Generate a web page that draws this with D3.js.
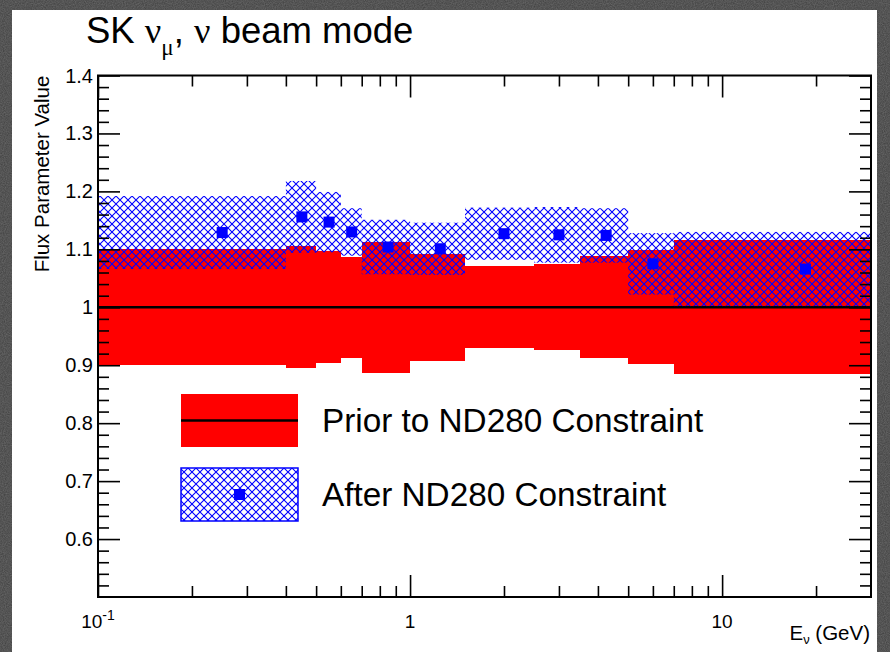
<!DOCTYPE html>
<html>
<head>
<meta charset="utf-8">
<script src="https://cdn.jsdelivr.net/npm/d3@7"></script>
<style>
body { margin: 0; background: #3c3c3c; }
text { font-family: "Liberation Sans", Arial, sans-serif; fill: #000; }
</style>
</head>
<body>
<div id="chart"></div>
<script>
// bins in neutrino energy (GeV)
var binEdges = [0.1, 0.4, 0.5, 0.6, 0.7, 1.0, 1.5, 2.5, 3.5, 5.0, 7.0, 30];
// prior: nominal 1 with +- error
var priorValue = [1, 1, 1, 1, 1, 1, 1, 1, 1, 1, 1];
var priorErr = [0.100, 0.105, 0.097, 0.087, 0.113, 0.092, 0.071, 0.074, 0.088, 0.098, 0.116];
// after ND280 fit
var postValue = [1.129, 1.156, 1.147, 1.130, 1.104, 1.101, 1.127, 1.125, 1.124, 1.075, 1.066];
var postErr = [0.063, 0.062, 0.052, 0.041, 0.047, 0.045, 0.045, 0.048, 0.047, 0.053, 0.064];

var yMajor = [0.6, 0.7, 0.8, 0.9, 1.0, 1.1, 1.2, 1.3, 1.4];
var yLabels = ["0.6", "0.7", "0.8", "0.9", "1", "1.1", "1.2", "1.3", "1.4"];
var xMajor = [0.1, 1, 10];
var xMinor = [0.2, 0.3, 0.4, 0.5, 0.6, 0.7, 0.8, 0.9, 2, 3, 4, 5, 6, 7, 8, 9, 20];

var W = 890, H = 652;
var pL = 98, pR = 871, pT = 75.5, pB = 597;

var svg = d3.select('#chart')
    .append('svg')
    .attr('width', W)
    .attr('height', H);

var defs = svg.append('defs');

// stony background noise
var f = defs.append('filter').attr('id', 'stone');
f.append('feTurbulence').attr('type', 'fractalNoise').attr('baseFrequency', 0.9).attr('numOctaves', 2).attr('result', 'n');
f.append('feColorMatrix').attr('type', 'matrix')
    .attr('values', '0 0 0 0 0.25  0 0 0 0 0.25  0 0 0 0 0.25  0.6 0 0 0 0');

var hatch = defs.append('pattern')
    .attr('id', 'hatch')
    .attr('patternUnits', 'userSpaceOnUse')
    .attr('width', 8).attr('height', 8);
hatch.append('path')
    .attr('d', 'M0,0 L8,8 M0,8 L8,0')
    .attr('stroke', '#0000ff')
    .attr('stroke-width', 1.1)
    .attr('fill', 'none');

defs.append('clipPath').attr('id', 'plotclip')
    .append('rect').attr('x', pL).attr('y', pT)
    .attr('width', pR - pL).attr('height', pB - pT);

svg.append('rect').attr('width', W).attr('height', H).attr('fill', '#3e3e3e');
svg.append('rect').attr('width', W).attr('height', H).attr('filter', 'url(#stone)');
svg.append('rect').attr('x', 12).attr('y', 10).attr('width', 865).attr('height', 642).attr('fill', '#fff');

var x = d3.scaleLog().domain([0.1, 30]).range([pL, pR]);
var y = d3.scaleLinear().domain([0.5, 1.4]).range([pB, pT]);

var bins = d3.range(priorErr.length).map(function(i) {
    return {
        lo: binEdges[i], hi: binEdges[i + 1],
        pv: priorValue[i], pe: priorErr[i],
        v: postValue[i], e: postErr[i]
    };
});

var plot = svg.append('g').attr('clip-path', 'url(#plotclip)');

// prior band
plot.selectAll('rect.prior')
    .data(bins)
    .enter()
    .append('rect')
    .attr('class', 'prior')
    .attr('x', function(d) { return x(d.lo); })
    .attr('width', function(d) { return x(d.hi) - x(d.lo); })
    .attr('y', function(d) { return y(d.pv + d.pe); })
    .attr('height', function(d) { return y(d.pv - d.pe) - y(d.pv + d.pe); })
    .attr('fill', '#ff0000')
    .attr('shape-rendering', 'crispEdges');

// prior central line
plot.append('path')
    .attr('d', d3.line()
        .curve(d3.curveStepAfter)
        .x(function(d) { return x(d.lo); })
        .y(function(d) { return y(d.pv); })(bins.concat([{lo: 30, pv: 1}])))
    .attr('stroke', '#000')
    .attr('stroke-width', 2.5)
    .attr('fill', 'none');

// post-fit hatched band
plot.selectAll('rect.post')
    .data(bins)
    .enter()
    .append('rect')
    .attr('class', 'post')
    .attr('x', function(d) { return x(d.lo); })
    .attr('width', function(d) { return x(d.hi) - x(d.lo); })
    .attr('y', function(d) { return y(d.v + d.e); })
    .attr('height', function(d) { return y(d.v - d.e) - y(d.v + d.e); })
    .attr('fill', 'url(#hatch)');

// post-fit points
var ms = 11;
plot.selectAll('rect.pt')
    .data(bins)
    .enter()
    .append('rect')
    .attr('class', 'pt')
    .attr('x', function(d) { return x((d.lo + d.hi) / 2) - ms / 2; })
    .attr('y', function(d) { return y(d.v) - ms / 2; })
    .attr('width', ms).attr('height', ms)
    .attr('fill', '#0000ff');

// axes, ticks pointing inward on all four sides
function styleAxis(g) {
    g.select('.domain').remove();
    g.selectAll('.tick line').attr('stroke', '#000').attr('stroke-width', 1.6);
    g.selectAll('.tick text').remove();
}
var yMinor = d3.range(0.52, 1.4, 0.02).filter(function(v) {
    return Math.abs(v * 10 - Math.round(v * 10)) > 0.01;
});

svg.append('g').attr('transform', 'translate(' + pL + ',0)')
    .call(d3.axisLeft(y).tickValues(yMajor).tickSize(-22)).call(styleAxis);
svg.append('g').attr('transform', 'translate(' + pL + ',0)')
    .call(d3.axisLeft(y).tickValues(yMinor).tickSize(-11)).call(styleAxis);
svg.append('g').attr('transform', 'translate(' + pR + ',0)')
    .call(d3.axisRight(y).tickValues(yMajor).tickSize(-22)).call(styleAxis);
svg.append('g').attr('transform', 'translate(' + pR + ',0)')
    .call(d3.axisRight(y).tickValues(yMinor).tickSize(-11)).call(styleAxis);

svg.append('g').attr('transform', 'translate(0,' + pB + ')')
    .call(d3.axisBottom(x).tickValues(xMajor).tickSize(-22)).call(styleAxis);
svg.append('g').attr('transform', 'translate(0,' + pB + ')')
    .call(d3.axisBottom(x).tickValues(xMinor).tickSize(-11)).call(styleAxis);
svg.append('g').attr('transform', 'translate(0,' + pT + ')')
    .call(d3.axisTop(x).tickValues(xMajor).tickSize(-22)).call(styleAxis);
svg.append('g').attr('transform', 'translate(0,' + pT + ')')
    .call(d3.axisTop(x).tickValues(xMinor).tickSize(-11)).call(styleAxis);

svg.append('rect')
    .attr('x', pL).attr('y', pT)
    .attr('width', pR - pL).attr('height', pB - pT)
    .attr('fill', 'none')
    .attr('stroke', '#000')
    .attr('stroke-width', 2);

// y tick labels
svg.selectAll('text.ylab')
    .data(yMajor)
    .enter()
    .append('text')
    .attr('class', 'ylab')
    .attr('x', pL - 5)
    .attr('y', function(d) { return y(d) + 7; })
    .attr('text-anchor', 'end')
    .attr('font-size', 20)
    .text(function(d, i) { return yLabels[i]; });

// x tick labels
var xl = svg.selectAll('text.xlab')
    .data(xMajor)
    .enter()
    .append('text')
    .attr('class', 'xlab')
    .attr('x', function(d) { return x(d); })
    .attr('y', 628)
    .attr('text-anchor', 'middle')
    .attr('font-size', 19);
xl.each(function(d) {
    var t = d3.select(this);
    if (d === 0.1) {
        t.append('tspan').text('10');
        t.append('tspan').attr('dy', -8).attr('font-size', 14).text('-1');
    } else {
        t.text(d);
    }
});

// axis titles
var xt = svg.append('text')
    .attr('x', 870).attr('y', 640)
    .attr('text-anchor', 'end')
    .attr('font-size', 20.5);
xt.append('tspan').text('E');
xt.append('tspan').attr('dy', 4).attr('font-size', 13).text('ν');
xt.append('tspan').attr('dy', -4).text(' (GeV)');

svg.append('text')
    .attr('transform', 'translate(49,174) rotate(-90)')
    .attr('text-anchor', 'middle')
    .attr('font-size', 20.5)
    .text('Flux Parameter Value');

// title
var tt = svg.append('text')
    .attr('x', 86).attr('y', 43)
    .attr('font-size', 36.5);
tt.append('tspan').text('SK ');
tt.append('tspan').attr('font-family', 'Liberation Serif, serif').text('ν');
tt.append('tspan').attr('dy', 12).attr('font-size', 23).attr('font-family', 'Liberation Serif, serif').text('μ');
tt.append('tspan').attr('dy', -12).text(', ');
tt.append('tspan').attr('font-family', 'Liberation Serif, serif').text('ν');
tt.append('tspan').text(' beam mode');

// legend
var legendItems = ['Prior to ND280 Constraint', 'After ND280 Constraint'];
var lg = svg.append('g');
lg.append('rect').attr('x', 181).attr('y', 394).attr('width', 117).attr('height', 53).attr('fill', '#ff0000');
lg.append('line').attr('x1', 181).attr('x2', 298).attr('y1', 420.5).attr('y2', 420.5)
    .attr('stroke', '#000').attr('stroke-width', 2.5);
lg.append('rect').attr('x', 181).attr('y', 468).attr('width', 117).attr('height', 53)
    .attr('fill', 'url(#hatch)').attr('stroke', '#0000ff').attr('stroke-width', 1.5);
lg.append('rect').attr('x', 234).attr('y', 489).attr('width', ms).attr('height', ms).attr('fill', '#0000ff');
lg.selectAll('text')
    .data(legendItems)
    .enter()
    .append('text')
    .attr('x', 322)
    .attr('y', function(d, i) { return 432 + i * 74; })
    .attr('font-size', 33.3)
    .text(function(d) { return d; });
</script>
</body>
</html>
